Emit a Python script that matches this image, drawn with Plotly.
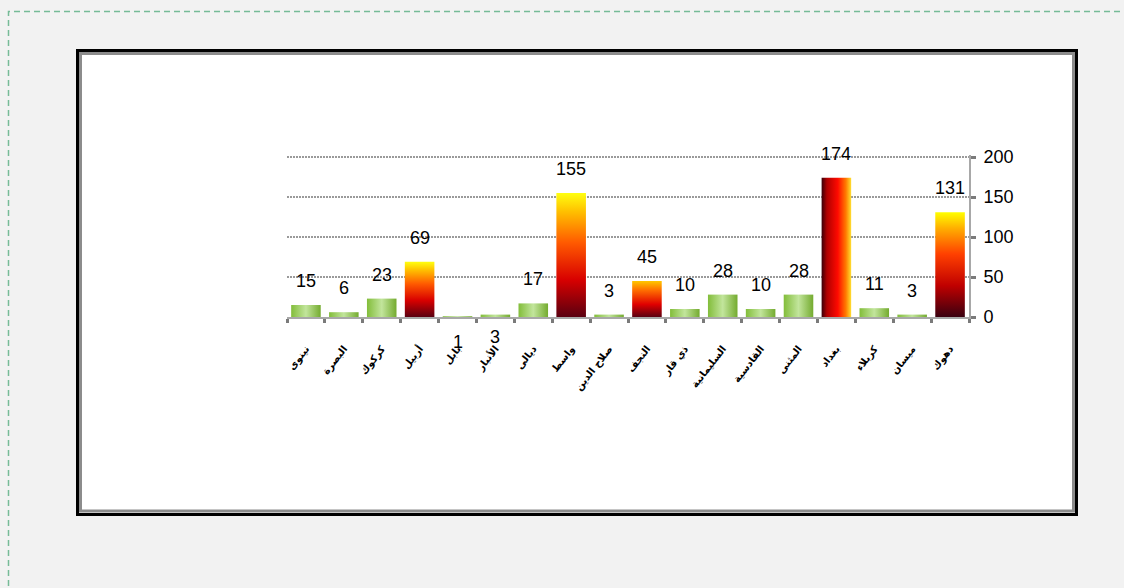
import plotly.graph_objects as go

# ---------------- data ----------------
categories = ["نينوى", "البصرة", "كركوك", "أربيل", "بابل", "الأنبار", "ديالى", "واسط",
              "صلاح الدين", "النجف", "ذي قار", "السليمانية", "القادسية", "المثنى",
              "بغداد", "كربلاء", "ميسان", "دهوك"]
values = [15, 6, 23, 69, 1, 3, 17, 155, 3, 45, 10, 28, 10, 28, 174, 11, 3, 131]
y_ticks = [0, 50, 100, 150, 200]

# ---------------- layout geometry (pixels) ----------------
W, H = 1124, 588
L, R, T, B = 287, 155, 155, 271
pw, ph = W - L - R, H - T - B
y_top = 200 * ph / 160.0   # keeps 200 units == 160 px, with room for top gridline


def px_x(p):
    return (p - L) / pw


def px_y(p):
    return (H - B - p) / ph


# ---------------- styles ----------------
green = dict(type="horizontal",
             colorscale=[[0, "#82bd3a"], [0.5, "#c2e59c"], [1, "#74ab2f"]])
hot_v = dict(type="vertical",
             colorscale=[[0, "#5a0010"], [0.3, "#d80000"], [0.6, "#ff5a00"],
                         [0.85, "#ffc000"], [1, "#ffff10"]])
hot_v2 = dict(type="vertical",
              colorscale=[[0, "#5a0010"], [0.35, "#e00000"], [0.75, "#ff7000"],
                          [1, "#ffc800"]])
hot_h = dict(type="horizontal",
             colorscale=[[0, "#3a0008"], [0.18, "#b00000"], [0.55, "#ff0a00"],
                         [0.82, "#ff7a00"], [1, "#ffe030"]])
hot_v3 = dict(type="vertical",
              colorscale=[[0, "#3a0010"], [0.3, "#c00000"], [0.6, "#ff4000"],
                          [0.85, "#ffb000"], [1, "#ffff00"]])
bar_fill = {3: hot_v, 7: hot_v, 9: hot_v2, 14: hot_h, 17: hot_v3}
label_shift = {4: -26, 5: -22}

fig = go.Figure()
bw = 0.78
for i, v in enumerate(values):
    x0, x1 = i - bw / 2, i + bw / 2
    fig.add_trace(go.Scatter(
        x=[x0, x0, x1, x1, x0], y=[0, v, v, 0, 0],
        fill="toself", mode="lines", line=dict(width=0),
        fillcolor="#a6d86e", fillgradient=bar_fill.get(i, green),
        hoverinfo="skip", showlegend=False))

annotations = []
for i, v in enumerate(values):
    annotations.append(dict(x=i, y=v, text=str(v), showarrow=False,
                            yshift=label_shift.get(i, 24), yanchor="middle",
                            font=dict(family="Liberation Sans, Arial", size=18, color="#000")))

shapes = [
    # dashed outer border
    dict(type="rect", xref="paper", yref="paper",
         x0=px_x(8.5), x1=px_x(1140), y0=px_y(620), y1=px_y(11.5),
         line=dict(color="#76bb97", width=1.5, dash="6px,4px"), layer="below"),
    # white chart box with black + gray frame
    dict(type="rect", xref="paper", yref="paper",
         x0=px_x(77.5), x1=px_x(1076.5), y0=px_y(514.5), y1=px_y(50.5),
         line=dict(color="#000000", width=3), fillcolor="#ffffff", layer="below"),
    dict(type="rect", xref="paper", yref="paper",
         x0=px_x(80.5), x1=px_x(1073.5), y0=px_y(511), y1=px_y(53.5),
         line=dict(color="#8c8c8c", width=3), layer="below"),
]

fig.update_layout(
    width=W, height=H,
    margin=dict(l=L, r=R, t=T, b=B),
    paper_bgcolor="#f2f2f2", plot_bgcolor="rgba(0,0,0,0)",
    annotations=annotations, shapes=shapes,
    showlegend=False,
    font=dict(family="Liberation Sans, Arial", color="#000"),
)
fig.update_xaxes(
    range=[-0.5, len(values) - 0.5],
    tickvals=list(range(len(categories))), ticktext=categories,
    tickangle=-52, ticks="", ticklabelstandoff=20,
    tickfont=dict(family="DejaVu Sans", size=10, color="#000", weight="bold"),
    showgrid=False, zeroline=False,
    showline=True, linecolor="#a8a8a8", linewidth=2,
    minor=dict(tick0=-0.5, dtick=1, ticks="outside", ticklen=4,
               tickwidth=3, tickcolor="#7a7a7a"),
)
fig.update_yaxes(
    range=[0, y_top], tickvals=y_ticks, side="right",
    ticks="outside", ticklen=5, tickwidth=3, tickcolor="#7a7a7a",
    ticklabelstandoff=4,
    tickfont=dict(family="Liberation Sans, Arial", size=18, color="#000"),
    showgrid=True, gridcolor="#9a9a9a", gridwidth=2, griddash="2px,1px",
    zeroline=False, showline=True, linecolor="#a8a8a8", linewidth=2,
)

fig.write_html(
    "out.html",
    config={"displayModeBar": False},
    post_script="document.body.style.margin='0';"
                "document.body.style.background='#f2f2f2';"
                "document.body.style.overflow='hidden';",
)
